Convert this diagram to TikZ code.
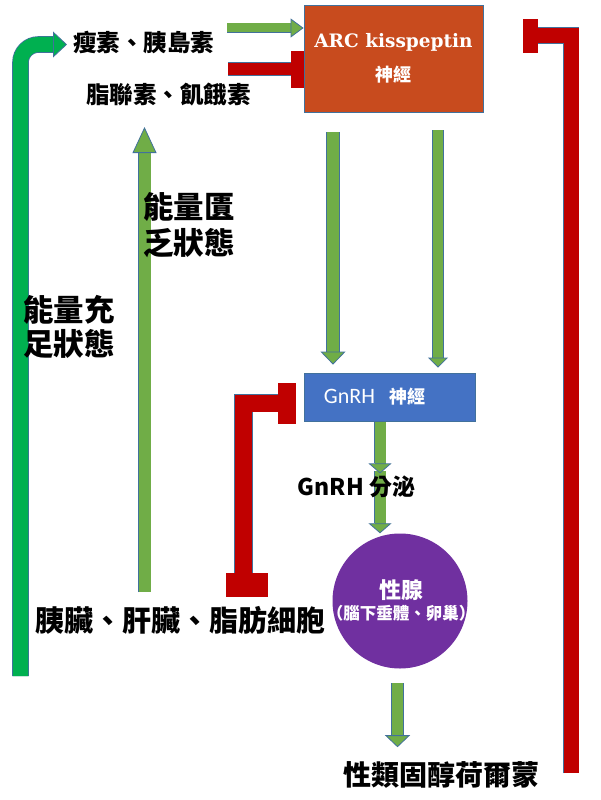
\documentclass[tikz,border=0pt]{standalone}
\usepackage{fontspec}
\newfontfamily\cjk{Noto Sans CJK TC}
\newfontfamily\serifb{DejaVu Serif}
\newfontfamily\carl{Carlito}
\usetikzlibrary{arrows.meta,calc}
\definecolor{arcc}{HTML}{C84B1E}
\definecolor{gnrhc}{HTML}{4472C4}
\definecolor{gonc}{HTML}{7030A0}
\definecolor{lg}{HTML}{70AD47}
\definecolor{brg}{HTML}{00B050}
\definecolor{rd}{HTML}{C00000}
\definecolor{ol}{HTML}{41719C}
\pgfdeclarelayer{bglayer}
\pgfdeclarelayer{arrowlayer}
\pgfsetlayers{bglayer,arrowlayer,main}
\begin{document}
\begin{tikzpicture}[x=1pt,y=-1pt,
  txt/.style={inner sep=0pt, text=black, align=center},
  blk/.style n args={5}{draw=#1, line width=#2,
    -{Triangle[length=#4,width=#3,fill=#1,color=ol,line width=0.8pt]},
    preaction={draw=ol, line width=#5, arrows=-, shorten >=#4}},
  tee/.style n args={4}{draw=rd, line width=#1,
    -{Rectangle[length=#2,width=#3,line width=0.1pt]},
    preaction={draw=ol, line width=#4, arrows=-, shorten >=#2}}
]
\useasboundingbox (0,0) rectangle (600,800);
\begin{pgfonlayer}{bglayer}
\fill[white] (0,0) rectangle (600,800);
\end{pgfonlayer}

% boxes
\node[draw=ol, line width=0.8pt, fill=arcc, minimum width=179pt, minimum height=107pt,
      inner sep=0pt, align=center, text=white, font=\fontsize{18}{34}\selectfont]
  (arc) at (393.5,58.5)
  {{\serifb\bfseries\fontsize{18.5}{34}\selectfont ARC kisspeptin}\\{\cjk\bfseries\fontsize{18}{34}\selectfont 神經}};
\node[draw=ol, line width=0.8pt, fill=gnrhc, minimum width=171pt, minimum height=48pt,
      inner sep=0pt, text=white]
  (gnrh) at (389.5,397)
  {{\carl\fontsize{22}{24}\selectfont GnRH}\hspace{14pt}{\cjk\bfseries\fontsize{18}{22}\selectfont 神經}\hspace*{30pt}};
\node[circle, fill=gonc, minimum size=135pt, inner sep=0pt] (gonad) at (400,601) {};
\node[txt, text=white, font=\cjk\bfseries\fontsize{16.5}{21}\selectfont] (gonadtxt) at (401,600)
  {{\fontsize{22}{21}\selectfont 性腺}\\（腦下垂體、卵巢）};
\node[fill=rd, minimum width=42pt, minimum height=24pt, inner sep=0pt] (blob) at (247,585) {};

% texts
\node[txt, font=\cjk\bfseries\fontsize{23.5}{28}\selectfont] (leptin) at (143.5,43) {瘦素、胰島素};
\node[txt, font=\cjk\bfseries\fontsize{23.5}{28}\selectfont] (adipo) at (168.5,95) {脂聯素、飢餓素};
\node[txt, font=\cjk\bfseries\fontsize{30.5}{36}\selectfont] (deficit) at (189,225) {能量匱\\乏狀態};
\node[txt, font=\cjk\bfseries\fontsize{30.5}{34}\selectfont] (suffic) at (69,326.5) {能量充\\足狀態};
\node[txt, font=\cjk\bfseries\fontsize{29}{34}\selectfont] (organs) at (180,620) {胰臟、肝臟、脂肪細胞};
\node[txt, font=\cjk\bfseries\fontsize{28}{34}\selectfont] (steroid) at (441,775) {性類固醇荷爾蒙};
\node[txt, font=\cjk\bfseries\fontsize{23}{28}\selectfont] (secr) at (356.5,487) {GnRH 分泌};

\begin{pgfonlayer}{arrowlayer}
% inputs to ARC
\draw[blk={lg}{9pt}{19pt}{13pt}{10.6pt}] ($(leptin.center)+(83.5,-15)$) -- ($(arc.west)+(0,-30.5)$);
\draw[tee={12pt}{13pt}{36pt}{13.4pt}] ($(adipo.center)+(59.5,-26)$) -- ($(arc.west)+(0,10.5)$);
% energy sufficient bent arrow
\draw[blk={brg}{15pt}{26pt}{14pt}{16.6pt}, rounded corners=18pt]
  ($(organs.center)+(-159.5,56)$) |- ($(leptin.center)+(-76.5,1.5)$);
% energy deficit arrow
\draw[blk={lg}{12pt}{24pt}{26pt}{13.6pt}] ($(organs.center)+(-35.5,-28)$) -- ($(adipo.center)+(-24,32)$);
% ARC to GnRH
\draw[blk={lg}{12pt}{25pt}{13pt}{13.6pt}] ($(arc.south)+(-60.5,20)$) -- ($(gnrh.north)+(-56.5,-8)$);
\draw[blk={lg}{10pt}{20pt}{10pt}{11.6pt}] ($(arc.south)+(44.5,18)$) -- ($(gnrh.north)+(48.5,-5)$);
% GnRH to gonad
\draw[blk={lg}{11pt}{23pt}{10pt}{12.6pt}] ($(gnrh.south)+(-9.5,50)$) -- ($(gonad.north)+(-20,0)$);
\draw[blk={lg}{11pt}{23pt}{10pt}{12.6pt}] ($(gnrh.south)+(-9.5,0)$) -- ($(gnrh.south)+(-9.5,52)$);
% gonad to steroid
\draw[blk={lg}{11pt}{25pt}{12pt}{12.6pt}] ($(gonad.south)+(-2.5,14.5)$) -- ($(gonad.south)+(-2.5,78.5)$);
% feedback to GnRH
\draw[tee={17pt}{17pt}{40pt}{18.4pt}] ($(blob.north)+(-3.5,0)$) |- ($(gnrh.west)+(-9,6)$);
% steroid feedback to ARC
\draw[tee={15pt}{14pt}{33pt}{16.4pt}] ($(steroid.center)+(130,-2)$) |- ($(arc.east)+(40,-23)$);
\end{pgfonlayer}
\end{tikzpicture}
\end{document}
